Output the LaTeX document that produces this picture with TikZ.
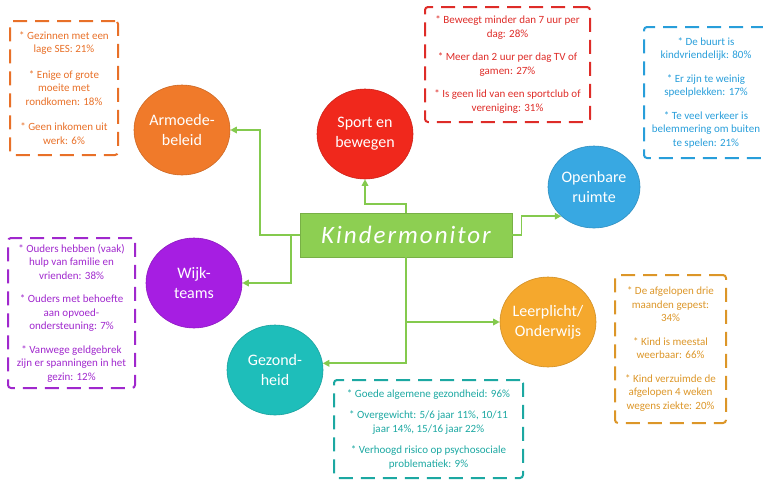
\documentclass[tikz,border=0pt]{standalone}
\usepackage{fontspec}
\setmainfont{Carlito}
\usetikzlibrary{shapes.geometric,arrows.meta}
\definecolor{cArm}{RGB}{240,122,42}
\definecolor{cSport}{RGB}{240,40,28}
\definecolor{cOpen}{RGB}{56,168,226}
\definecolor{cWijk}{RGB}{166,30,226}
\definecolor{cGez}{RGB}{30,190,186}
\definecolor{cLeer}{RGB}{245,168,45}
\definecolor{cGreen}{RGB}{141,207,82}
\definecolor{cLine}{RGB}{132,202,78}
\definecolor{tArm}{RGB}{232,112,40}
\definecolor{tSport}{RGB}{222,44,40}
\definecolor{tOpen}{RGB}{40,158,218}
\definecolor{tWijk}{RGB}{160,40,205}
\definecolor{tGez}{RGB}{28,168,162}
\definecolor{tLeer}{RGB}{220,150,40}
\begin{document}
\begin{tikzpicture}[x=1pt,y=-1pt,
  bub/.style={ellipse, minimum width=96pt, minimum height=90pt, inner sep=0pt,
    draw=#1!85!black, line width=0.6pt, fill=#1},
  lbl/.style={text=white, align=center, font=\fontsize{16}{20}\selectfont},
  kmbox/.style={rectangle, fill=cGreen, draw=cGreen!85!black, line width=0.6pt,
    minimum width=212pt, minimum height=44pt, text=white,
    font=\fontsize{25}{28}\itshape\addfontfeature{LetterSpace=8}},
  conn/.style={draw=cLine, line width=1.6pt, -{Triangle[length=6.5pt,width=6.5pt]}},
  infobox/.style={draw=#1, text=#1, line width=2pt, dash pattern=on 14pt off 8pt,
    rounded corners=3pt, align=center, inner sep=2pt,
    font=\fontsize{11}{13.5}\selectfont}
]
\useasboundingbox (0,0) rectangle (763,483);

% bubbles
\node[bub=cArm] (arm) at (182,130) {};
\node[lbl] (armt) at (arm) {Armoede-\\beleid};
\node[bub=cSport] (sport) at (365,134) {};
\node[lbl] (sportt) at (sport) {Sport en\\bewegen};
\node[bub=cOpen, minimum height=82pt, minimum width=92pt] (open) at (594,187) {};
\node[lbl] (opent) at (open) {Openbare\\ruimte};
\node[bub=cWijk] (wijk) at (194,283) {};
\node[lbl] (wijkt) at (wijk) {Wijk-\\teams};
\node[bub=cGez] (gez) at (275,370) {};
\node[lbl] (gezt) at (gez) {Gezond-\\heid};
\node[bub=cLeer] (leer) at (548,322) {};
\node[lbl] (leert) at (leer) {Leerplicht/\\Onderwijs};

% center
\node[kmbox] (km) at (406,235) {Kindermonitor};

% connectors
\draw[conn] (km.west) -- ++(-40,0) |- (arm.east);
\draw[conn] (km.west) -- ++(-9,0) |- (wijk.east);
\draw[conn] (km.north) -- ++(0,-9) -| (sport.south);
\draw[conn] (km.east) -- ++(9,0) |- (open.south west);
\draw[conn] (km.south) |- (leer.west);
\draw[conn] (km.south) |- (gez.8);

% info boxes
\node[infobox=tArm, minimum width=108pt, minimum height=134pt] (armbox) at (64,88)
 {* Gezinnen met een\\lage SES: 21\%\\[12pt]* Enige of grote\\moeite met\\rondkomen: 18\%\\[12pt]* Geen inkomen uit\\werk: 6\%};
\node[infobox=tSport, minimum width=165pt, minimum height=115pt] (sportbox) at (507.5,64.5)
 {* Beweegt minder dan 7 uur per\\dag: 28\%\\[10pt]* Meer dan 2 uur per dag TV of\\gamen: 27\%\\[10pt]* Is geen lid van een sportclub of\\vereniging: 31\%};
\node[infobox=tOpen, minimum width=124pt, minimum height=131pt] (openbox) at (706,92.5)
 {* De buurt is\\kindvriendelijk: 80\%\\[10pt]* Er zijn te weinig\\speelplekken: 17\%\\[10pt]* Te veel verkeer is\\belemmering om buiten\\te spelen: 21\%};
\node[infobox=tWijk, minimum width=127pt, minimum height=150pt] (wijkbox) at (71.5,313)
 {* Ouders hebben (vaak)\\hulp van familie en\\vrienden: 38\%\\[10pt]* Ouders met behoefte\\aan opvoed-\\ondersteuning: 7\%\\[10pt]* Vanwege geldgebrek\\zijn er spanningen in het\\gezin: 12\%};
\node[infobox=tLeer, minimum width=111pt, minimum height=148pt] (leerbox) at (670.5,349)
 {* De afgelopen drie\\maanden gepest:\\34\%\\[10pt]* Kind is meestal\\weerbaar: 66\%\\[10pt]* Kind verzuimde de\\afgelopen 4 weken\\wegens ziekte: 20\%};
\node[infobox=tGez, minimum width=189pt, minimum height=98pt] (gezbox) at (428.5,429)
 {* Goede algemene gezondheid: 96\%\\[8pt]* Overgewicht: 5/6 jaar 11\%, 10/11\\jaar 14\%, 15/16 jaar 22\%\\[8pt]* Verhoogd risico op psychosociale\\problematiek: 9\%};
\end{tikzpicture}
\end{document}
